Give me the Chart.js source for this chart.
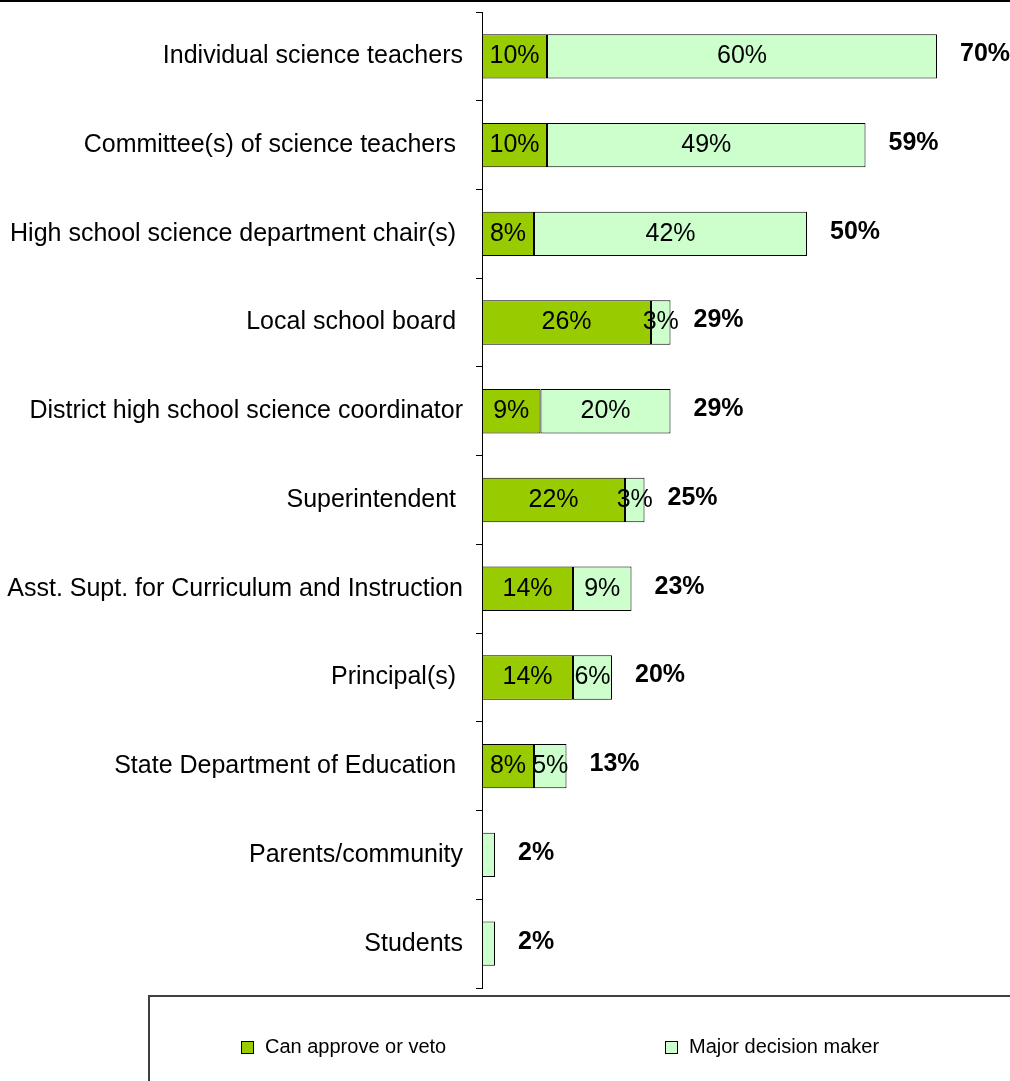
<!DOCTYPE html>
<html>
<head>
<meta charset="utf-8">
<title>Who decides on high school science instructional materials</title>
<script src="https://cdn.jsdelivr.net/npm/chart.js@4.4.1/dist/chart.umd.min.js"></script>
<style>
  html, body { margin: 0; padding: 0; background: #fff; }
  #chartDiv { width: 1010px; height: 1081px; position: relative; overflow: hidden; }
</style>
</head>
<body>
<div id="chartDiv">
  <canvas id="myChart" width="1010" height="1081"></canvas>
</div>
<script>
let categories = [
  "Individual science teachers",
  "Committee(s) of science teachers ",
  "High school science department chair(s) ",
  "Local school board ",
  "District high school science coordinator",
  "Superintendent ",
  "Asst. Supt. for Curriculum and Instruction",
  "Principal(s) ",
  "State Department of Education ",
  "Parents/community",
  "Students"
];
let approveVeto = [10, 10, 8, 26, 9, 22, 14, 14, 8, 0, 0];
let majorDecision = [60, 49, 42, 3, 20, 3, 9, 6, 5, 2, 2];
let seriesNames = ["Can approve or veto", "Major decision maker"];

let fontFamily = "'Liberation Sans', Arial, Helvetica, sans-serif";
let myChart = document.getElementById("myChart");

// writes the % inside each segment and the bold total after each bar
const barLabels = {
  id: "barLabels",
  afterDatasetsDraw(chart) {
    const ctx = chart.ctx;
    ctx.save();
    ctx.fillStyle = "#000";
    ctx.textBaseline = "middle";
    ctx.textAlign = "center";
    ctx.font = "25px " + fontFamily;
    chart.data.datasets.forEach((ds, i) => {
      chart.getDatasetMeta(i).data.forEach((bar, j) => {
        let v = ds.data[j];
        if (v < 3) return;
        let c = bar.getCenterPoint();
        ctx.fillText(v + "%", c.x, c.y);
      });
    });
    ctx.textAlign = "left";
    ctx.font = "bold 25px " + fontFamily;
    let last = chart.getDatasetMeta(chart.data.datasets.length - 1).data;
    last.forEach((bar, j) => {
      let total = approveVeto[j] + majorDecision[j];
      ctx.fillText(total + "%", bar.x + 23, bar.y - 2);
    });
    ctx.restore();
  }
};

// rule across the top plus the framed legend underneath
const frameAndLegend = {
  id: "frameAndLegend",
  afterDraw(chart) {
    const ctx = chart.ctx;
    ctx.save();
    ctx.fillStyle = "#000";
    ctx.fillRect(0, 0, chart.width, 2);

    ctx.strokeStyle = "#404040";
    ctx.lineWidth = 2;
    ctx.strokeRect(149, 996, chart.width, 200);

    let itemX = [241, 665];
    let y = 1047;
    ctx.font = "20px " + fontFamily;
    ctx.textBaseline = "middle";
    ctx.textAlign = "left";
    chart.data.datasets.forEach((ds, i) => {
      ctx.fillStyle = ds.backgroundColor;
      ctx.fillRect(itemX[i], y - 6, 12, 12);
      ctx.strokeStyle = "#000";
      ctx.lineWidth = 1;
      ctx.strokeRect(itemX[i] + 0.5, y - 5.5, 12, 12);
      ctx.fillStyle = "#000";
      ctx.fillText(ds.label, itemX[i] + 24, y);
    });
    ctx.restore();
  }
};

const data = {
  labels: categories,
  datasets: [
    {
      label: seriesNames[0],
      data: approveVeto,
      backgroundColor: "#99CC00",
      borderColor: "#000",
      borderWidth: 1,
      borderSkipped: false
    },
    {
      label: seriesNames[1],
      data: majorDecision,
      backgroundColor: "#CCFFCC",
      borderColor: "#000",
      borderWidth: 1,
      borderSkipped: false
    }
  ]
};

const config = {
  type: "bar",
  data: data,
  options: {
    indexAxis: "y",
    responsive: false,
    animation: false,
    layout: { padding: { top: 12, right: 8, bottom: 93, left: 0 } },
    datasets: { bar: { barPercentage: 0.5, categoryPercentage: 1 } },
    plugins: {
      legend: { display: false },
      tooltip: { enabled: false }
    },
    scales: {
      x: {
        stacked: true,
        display: false,
        min: 0,
        max: 80
      },
      y: {
        stacked: true,
        afterFit(scale) {
          scale.width = 482;
          scale.paddingTop = 0;
          scale.paddingBottom = 0;
        },
        border: { display: true, color: "#000", width: 1 },
        grid: {
          offset: true,
          drawOnChartArea: false,
          drawTicks: true,
          tickLength: 6,
          color: "#000"
        },
        ticks: {
          color: "#000",
          padding: 13,
          font: { size: 25, family: fontFamily }
        }
      }
    }
  },
  plugins: [barLabels, frameAndLegend]
};

const newChart = new Chart(myChart, config);
</script>
</body>
</html>
